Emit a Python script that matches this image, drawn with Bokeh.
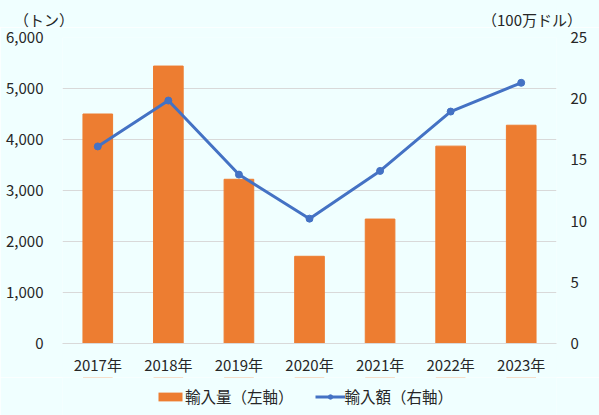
from bokeh.plotting import figure
from bokeh.layouts import column
from bokeh.models import (ColumnDataSource, FactorRange, Range1d, LinearAxis, FixedTicker,
                          NumeralTickFormatter, Legend, LegendItem, Div)
from bokeh.embed import file_html
from bokeh.resources import INLINE

years = ["2017年", "2018年", "2019年", "2020年", "2021年", "2022年", "2023年"]
volume_t = [4500, 5440, 3220, 1710, 2440, 3870, 4280]          # 輸入量（左軸）, トン
value_musd = [16.1, 19.85, 13.8, 10.2, 14.1, 18.95, 21.3]      # 輸入額（右軸）, 100万ドル
left_ticks = [0, 1000, 2000, 3000, 4000, 5000, 6000]
right_ticks = [0, 5, 10, 15, 20, 25]
bar_label = "輸入量（左軸）"
line_label = "輸入額（右軸）"
left_unit = "（トン）"
right_unit = "（100万ドル）"

FONT = "Noto Sans CJK JP"
TXT = "#262626"
BG = "#F0FFFF"
ORANGE = "#ED7D31"
BLUE = "#4472C4"

src = ColumnDataSource(dict(year=years, vol=volume_t, val=value_musd))

p = figure(frame_width=494, frame_height=306, x_range=FactorRange(*years),
           y_range=Range1d(0, 6000),
           output_backend="svg", toolbar_location=None,
           min_border_left=62, min_border_right=43, min_border_top=10, min_border_bottom=34)
p.extra_y_ranges = {"right": Range1d(0, 25)}

p.background_fill_color = BG
p.border_fill_color = BG
p.outline_line_color = None

p.vbar(x="year", top="vol", width=0.42, source=src, color=ORANGE)
p.line(x="year", y="val", source=src, y_range_name="right", line_color=BLUE, line_width=3)
p.scatter(x="year", y="val", source=src, y_range_name="right", size=7,
          fill_color=BLUE, line_color=BLUE)

# axes
p.yaxis.ticker = FixedTicker(ticks=left_ticks)
p.yaxis.formatter = NumeralTickFormatter(format="0,0")
ax_r = LinearAxis(y_range_name="right", ticker=FixedTicker(ticks=right_ticks))
p.add_layout(ax_r, "right")

for ax in [p.yaxis[0], ax_r, p.xaxis[0]]:
    ax.major_tick_line_color = None
    ax.minor_tick_line_color = None
    ax.major_tick_out = 0
    ax.major_tick_in = 0
    ax.minor_tick_out = 0
    ax.minor_tick_in = 0
    ax.axis_line_color = None
    ax.major_label_text_font = FONT
    ax.major_label_text_font_size = "15px"
    ax.major_label_text_color = TXT
p.xaxis.axis_line_color = "#D9D9D9"
p.yaxis[0].major_label_standoff = 19
ax_r.major_label_standoff = 14
p.xaxis.major_label_standoff = 10

p.xgrid.grid_line_color = None
p.ygrid.grid_line_color = "#D9D9D9"
p.ygrid.grid_line_width = 1
p.ygrid.ticker = FixedTicker(ticks=left_ticks)

# legend strip: a small figure whose view range lies below the data,
# so its copies of the series are out of view and only the legend shows
lg = figure(width=599, height=38, x_range=FactorRange(*years), y_range=Range1d(-2, -1),
            x_axis_type=None, y_axis_type=None, output_backend="svg", toolbar_location=None,
            min_border=0)
lg.background_fill_color = BG
lg.border_fill_color = BG
lg.outline_line_color = None
lg.grid.grid_line_color = None
r_bar = lg.vbar(x="year", top="vol", bottom=0, width=0.42, source=src,
                fill_color=ORANGE, line_alpha=0)
r_line = lg.line(x="year", y="val", source=src, line_color=BLUE, line_width=3)
r_pts = lg.scatter(x="year", y="val", source=src, size=7, fill_color=BLUE, line_color=BLUE)

legend = Legend(items=[LegendItem(label=bar_label, renderers=[r_bar]),
                       LegendItem(label=line_label, renderers=[r_line, r_pts])],
                orientation="horizontal", location=(93, 8),
                glyph_width=30, glyph_height=11, label_height=20, label_standoff=0,
                spacing=21, padding=0, margin=0,
                label_text_font=FONT, label_text_font_size="15.5px", label_text_color=TXT,
                background_fill_alpha=0, border_line_color=None)
lg.add_layout(legend, "center")

# unit captions above the plot
caption = Div(
    text=(f'<div style="display:flex;font-family:\'{FONT}\';font-size:15px;line-height:15px;'
          f'color:{TXT};padding-top:12px;white-space:nowrap;">'
          f'<span style="margin-left:14px;width:468px;">{left_unit}</span>'
          f'<span>{right_unit}</span></div>'),
    width=599, height=27, margin=0,
    styles={"background-color": BG})

layout = column(caption, p, lg, spacing=0)

html = file_html(layout, INLINE)
html = html.replace("<body>", '<body style="margin:0;background-color:#F0FFFF;">', 1)
open("out.html", "w").write(html)
